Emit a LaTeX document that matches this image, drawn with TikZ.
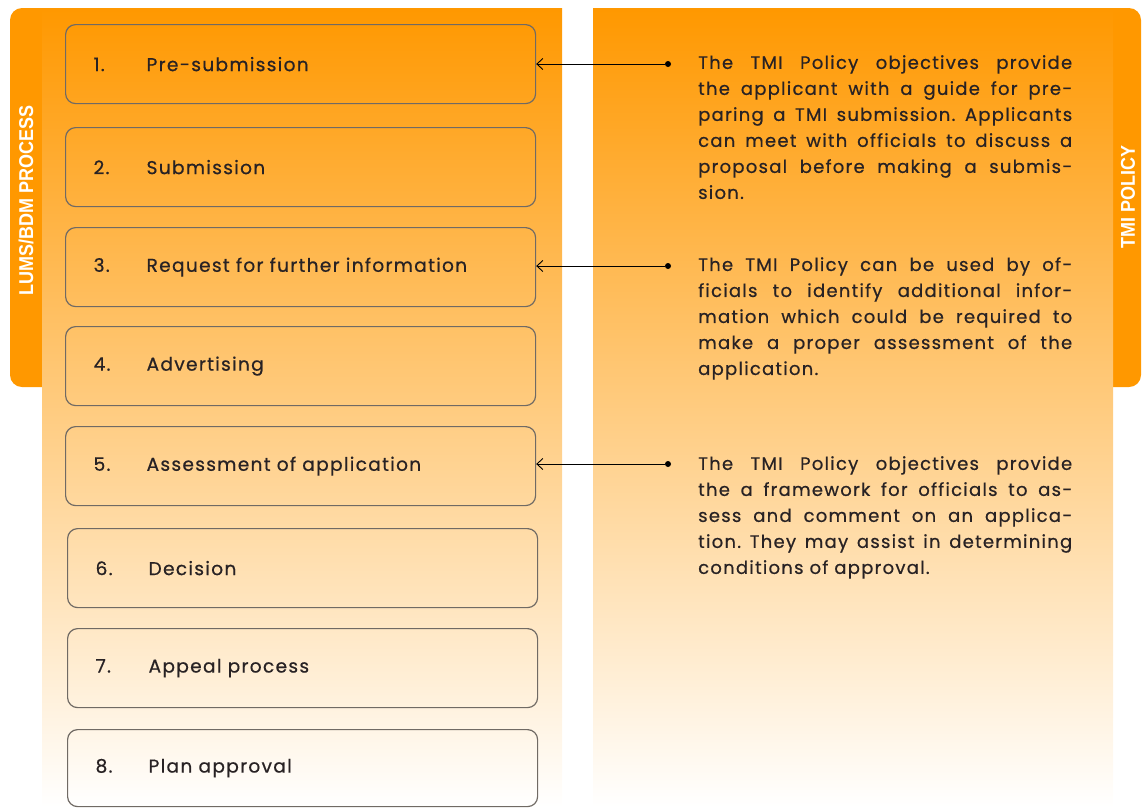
\documentclass[tikz,border=0pt]{standalone}
\usepackage{fontspec}
\setmainfont{Poppins}[LetterSpace=7, FakeBold=0.6]
\setsansfont{Liberation Sans}
\usetikzlibrary{arrows.meta}
\definecolor{tmiorange}{RGB}{255,152,0}
\definecolor{boxgray}{RGB}{112,106,100}
\definecolor{inkgray}{RGB}{40,34,36}

\frenchspacing
\newcommand{\notesetup}{\exhyphenpenalty=10000 \tolerance=10000 \relax}
\tikzset{
	stage/.style={draw=boxgray, line width=1.2pt, rounded corners=10pt, anchor=north west,
		minimum width=470pt, minimum height=79pt, text width=414pt, inner xsep=28pt,
		align=left, text=inkgray, font=\fontsize{18.6}{22}\selectfont},
	note/.style={anchor=north west, inner sep=0pt, text width=374pt, align=justify,
		text=inkgray, font=\fontsize{18}{26}\selectfont, execute at begin node=\notesetup},
	dot/.style={circle, fill=black, inner sep=0pt, minimum size=6pt},
	tabtext/.style={rotate=90, text=white, font=\sffamily\bfseries\fontsize{20}{20}\selectfont},
	link/.style={line width=0.9pt, -{Straight Barb[length=6pt,width=11pt]}}
}
\newcommand{\stagenum}[1]{\makebox[53pt][l]{#1}}

\begin{document}
\begin{tikzpicture}[x=1pt, y=-1pt]
	\useasboundingbox (0,0) rectangle (1142,807);
	% side tabs
	\fill[tmiorange, rounded corners=12pt] (10,8) rectangle (70,387);
	\fill[tmiorange, rounded corners=12pt] (1085,8) rectangle (1141,387);
	% faded panels
	\shade[top color=tmiorange, bottom color=white] (42,8) rectangle (562,807);
	\shade[top color=tmiorange, bottom color=white] (593,8) rectangle (1113,807);
	\node[tabtext] (lumstab) at (26,200) {\scalebox{0.9}[1]{LUMS/BDM PROCESS}};
	\node[tabtext] (tmitab) at (1128,197) {\scalebox{0.9}[1]{TMI POLICY}};
	% process steps
	\node[stage] (s1) at (65,24) {\stagenum{1.}Pre-submission};
	\node[stage] (s2) at (65,127) {\stagenum{2.}Submission};
	\node[stage] (s3) at (65,227) {\stagenum{3.}Request for further information};
	\node[stage] (s4) at (65,326) {\stagenum{4.}Advertising};
	\node[stage] (s5) at (65,426) {\stagenum{5.}Assessment of application};
	\node[stage] (s6) at (67,528) {\stagenum{6.}Decision};
	\node[stage] (s7) at (67,628) {\stagenum{7.}Appeal process};
	\node[stage, minimum height=77pt] (s8) at (67,729) {\stagenum{8.}Plan approval};
	% policy notes
	\node[note] (n1) at (698,55) {The TMI Policy objectives provide\linebreak
		the applicant with a guide for pre-\linebreak
		paring a TMI submission. Applicants\linebreak
		can meet with officials to discuss a\linebreak
		proposal before making a submis-\linebreak
		sion.};
	\node[note] (n2) at (698,257) {The TMI Policy can be used by of-\linebreak
		ficials to identify additional infor-\linebreak
		mation which could be required to\linebreak
		make a proper assessment of the\linebreak
		application.};
	\node[note] (n3) at (698,456) {The TMI Policy objectives provide\linebreak
		the a framework for officials to as-\linebreak
		sess and comment on an applica-\linebreak
		tion. They may assist in determining\linebreak
		conditions of approval.};
	% links
	\node[dot] (d1) at (668,64) {};
	\node[dot] (d3) at (668,266) {};
	\node[dot] (d5) at (668,464) {};
	\draw[link] (d1) -- (d1 -| s1.east);
	\draw[link] (d3) -- (d3 -| s3.east);
	\draw[link] (d5) -- (d5 -| s5.east);
\end{tikzpicture}
\end{document}
